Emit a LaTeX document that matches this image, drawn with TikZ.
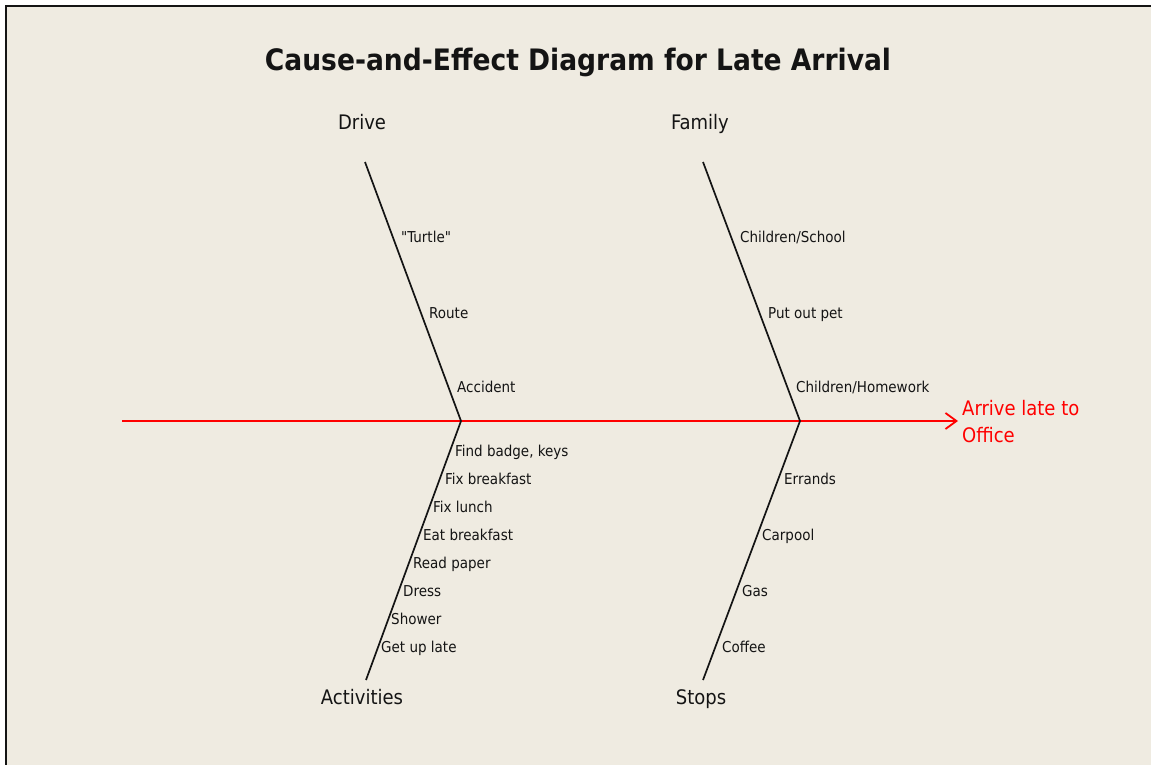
\documentclass[tikz,border=0pt]{standalone}
\usepackage{fontspec}
\setmainfont{DejaVu Sans Condensed}
\usetikzlibrary{arrows.meta}
\definecolor{paper}{HTML}{EFEBE1}
\definecolor{ink}{HTML}{141414}
\definecolor{effectred}{HTML}{FF0000}

\begin{document}
\begin{tikzpicture}[x=1pt, y=-1pt,
  every node/.style={inner sep=0pt, text=ink},
  bone/.style={draw=ink, line width=1.7pt},
  spine/.style={draw=effectred, line width=1.8pt,
                -{Straight Barb[length=11pt, width=16pt, line width=1.8pt]}},
  head/.style={font=\fontsize{20}{24}\selectfont, anchor=base},
  cause/.style={font=\fontsize{15}{18}\selectfont, anchor=base west},
  ttl/.style={font=\bfseries\fontsize{29.5}{34}\selectfont}
]
  % page and frame
  \useasboundingbox (0,0) rectangle (1151,765);
  \fill[paper] (5,5) rectangle (1151,765);
  \draw[ink, line width=2pt] (6,765) -- (6,6) -- (1151,6);

  \node[ttl] (title) at (578,62) {Cause-and-Effect Diagram for Late Arrival};

  % spine and effect
  \coordinate (tail) at (122,421);
  \node[font=\fontsize{20}{27}\selectfont, text=effectred, align=left, anchor=base west]
    (effect) at (962,442) {Arrive late to\\Office};
  \draw[spine] (tail) -- ([xshift=-4pt]tail -| effect.west);

  % joints and bone ends
  \coordinate (jd) at (461,421);
  \coordinate (jf) at (800,421);
  \coordinate (drvend) at (365,162);
  \coordinate (actend) at (366,680);
  \coordinate (famend) at (703,162);
  \coordinate (stpend) at (703,680);

  \node[head] (drive) at (362,130) {Drive};
  \node[head] (family) at (700,130) {Family};
  \node[head] (activities) at (362,704) {Activities};
  \node[head] (stops) at (701,704) {Stops};

  \draw[bone] (drvend) -- (jd) -- (actend);
  \draw[bone] (famend) -- (jf) -- (stpend);

  % Drive
  \node[cause] (turtle) at (401,242) {\textquotedbl Turtle\textquotedbl};
  \node[cause] (route) at (429,318) {Route};
  \node[cause] (accident) at (457,392) {Accident};

  % Family
  \node[cause] (school) at (740,242) {Children/School};
  \node[cause] (pet) at (768,318) {Put out pet};
  \node[cause] (homework) at (796,392) {Children/Homework};

  % Activities
  \node[cause] (badge) at (455,456) {Find badge, keys};
  \node[cause] (fixbf) at (445,484) {Fix breakfast};
  \node[cause] (lunch) at (433,512) {Fix lunch};
  \node[cause] (eatbf) at (423,540) {Eat breakfast};
  \node[cause] (paper) at (413,568) {Read paper};
  \node[cause] (dress) at (403,596) {Dress};
  \node[cause] (shower) at (391,624) {Shower};
  \node[cause] (getup) at (381,652) {Get up late};

  % Stops
  \node[cause] (errands) at (784,484) {Errands};
  \node[cause] (carpool) at (762,540) {Carpool};
  \node[cause] (gas) at (742,596) {Gas};
  \node[cause] (coffee) at (722,652) {Coffee};
\end{tikzpicture}
\end{document}
